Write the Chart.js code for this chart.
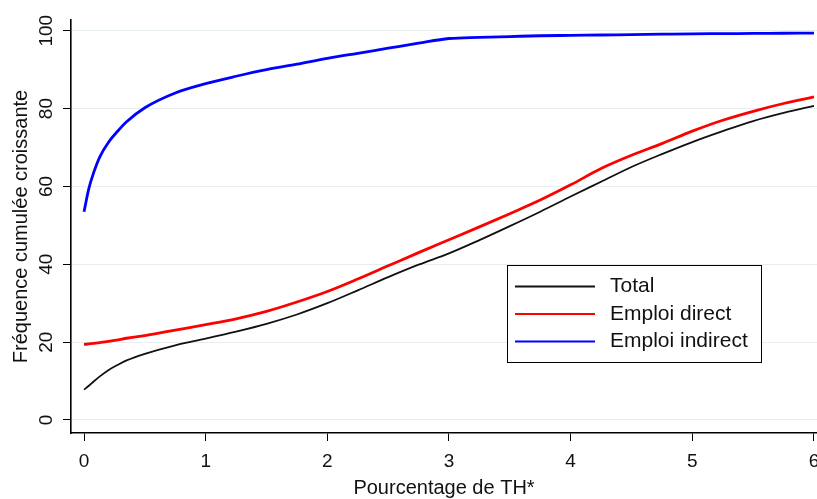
<!DOCTYPE html>
<html>
<head>
<meta charset="utf-8">
<script src="https://cdn.jsdelivr.net/npm/chart.js@4"></script>
<style>
  html, body { margin: 0; padding: 0; background: #fff; }
  #wrap { width: 817px; height: 499px; }
</style>
</head>
<body>
<div id="wrap"><canvas id="cumulChart" width="817" height="499"></canvas></div>
<script>
// valeurs
var xValues = [0, 0.04, 0.08, 0.13, 0.2, 0.28, 0.35, 0.5, 0.75, 1, 1.25, 1.5, 1.75, 2, 2.25, 2.5, 2.75, 3,
               3.25, 3.5, 3.75, 4, 4.25, 4.5, 4.75, 5, 5.25, 5.5, 5.75, 6];
var totalValues = [7.8, 8.8, 9.9, 11.2, 12.8, 14.2, 15.3, 17.0, 19.2, 20.9, 22.7, 24.7, 27.1, 30.0, 33.3, 36.7, 39.9, 42.8,
                   46.2, 49.8, 53.5, 57.4, 61.2, 65.0, 68.3, 71.4, 74.2, 76.8, 78.9, 80.7];
var directValues = [19.4, 19.55, 19.7, 19.9, 20.2, 20.6, 21.0, 21.7, 23.1, 24.5, 26.0, 27.9, 30.3, 33.0, 36.2, 39.6, 43.0, 46.3,
                    49.6, 53.0, 56.5, 60.4, 64.6, 68.0, 71.0, 74.2, 77.0, 79.3, 81.3, 83.0];
var indirectValues = [53.5, 59.5, 63.6, 67.6, 71.3, 74.3, 76.6, 80.2, 84.0, 86.4, 88.3, 90.0, 91.4, 92.9, 94.2, 95.5, 96.8, 98.0,
                      98.3, 98.5, 98.7, 98.8, 98.9, 99.0, 99.1, 99.2, 99.25, 99.3, 99.35, 99.4];
var seriesLabels = ['Total', 'Emploi direct', 'Emploi indirect'];
var xTickValues = [0, 1, 2, 3, 4, 5, 6];
var yTickValues = [0, 20, 40, 60, 80, 100];

var fontFamily = '"Liberation Sans", Arial, Helvetica, sans-serif';

function toPoints(ys) {
    return ys.map(function(y, i) { return {x: xValues[i], y: y}; });
}

// légende dans la zone du graphique (encadré blanc)
var insideLegend = {
    id: 'insideLegend',
    afterDatasetsDraw: function(chart) {
        var ctx = chart.ctx;
        var a = chart.chartArea;
        var left = Math.round(a.left + a.width * 0.584);
        var top = Math.round(a.top + a.height * 0.593);
        var w = 254, h = 97;
        ctx.save();
        ctx.fillStyle = '#fff';
        ctx.fillRect(left, top, w, h);
        ctx.strokeStyle = '#000';
        ctx.lineWidth = 1;
        ctx.strokeRect(left + 0.5, top + 0.5, w, h);
        ctx.font = '21px ' + fontFamily;
        ctx.textBaseline = 'middle';
        chart.data.datasets.forEach(function(ds, i) {
            var y = top + 21.5 + i * 27.5;
            ctx.strokeStyle = ds.borderColor;
            ctx.lineWidth = 1.8;
            ctx.beginPath();
            ctx.moveTo(left + 8, y);
            ctx.lineTo(left + 88, y);
            ctx.stroke();
            ctx.fillStyle = '#111';
            ctx.fillText(ds.label, left + 103, y);
        });
        ctx.restore();
    }
};

var context = document.getElementById('cumulChart').getContext('2d');

var cumulChart = new Chart(context, {
    type: 'line',
    data: {
        datasets: [{
            label: seriesLabels[0],
            data: toPoints(totalValues),
            borderColor: '#111111',
            borderWidth: 1.8
        }, {
            label: seriesLabels[1],
            data: toPoints(directValues),
            borderColor: '#ff0000',
            borderWidth: 2.8
        }, {
            label: seriesLabels[2],
            data: toPoints(indirectValues),
            borderColor: '#0000ff',
            borderWidth: 2.8
        }]
    },
    options: {
        responsive: false,
        animation: false,
        devicePixelRatio: 1,
        layout: { padding: { top: 20, right: 0, bottom: 0, left: 0 }, autoPadding: false },
        elements: {
            point: { radius: 0 },
            line: { cubicInterpolationMode: 'monotone', fill: false }
        },
        plugins: {
            legend: { display: false },
            tooltip: { enabled: false }
        },
        scales: {
            x: {
                type: 'linear',
                position: 'bottom',
                min: -0.107,
                max: 6.025,
                afterBuildTicks: function(scale) {
                    scale.ticks = xTickValues.map(function(v) { return {value: v}; });
                },
                afterFit: function(scale) {
                    scale.height = 66;
                    scale.paddingLeft = 0;
                    scale.paddingRight = 0;
                },
                grid: {
                    drawOnChartArea: false,
                    drawTicks: true,
                    tickLength: 8,
                    tickColor: '#000',
                    tickWidth: 1
                },
                border: { display: true, color: '#000', width: 1.6 },
                ticks: {
                    color: '#111',
                    font: { family: fontFamily, size: 19 },
                    padding: 9,
                    maxRotation: 0,
                    autoSkip: false
                },
                title: {
                    display: true,
                    text: 'Pourcentage de TH*',
                    color: '#111',
                    font: { family: fontFamily, size: 20, lineHeight: 1 },
                    padding: { top: 0, bottom: 1 }
                }
            },
            y: {
                type: 'linear',
                min: -3.34,
                max: 102.75,
                afterBuildTicks: function(scale) {
                    scale.ticks = yTickValues.map(function(v) { return {value: v}; });
                },
                afterFit: function(scale) {
                    scale.width = 71;
                    scale.paddingTop = 0;
                    scale.paddingBottom = 0;
                },
                grid: {
                    color: '#e6eef1',
                    lineWidth: 1,
                    drawTicks: true,
                    tickLength: 8,
                    tickColor: '#000',
                    tickWidth: 1
                },
                border: { display: true, color: '#000', width: 1.6 },
                ticks: {
                    color: '#111',
                    font: { family: fontFamily, size: 19 },
                    padding: 0,
                    minRotation: 90,
                    maxRotation: 90,
                    crossAlign: 'center',
                    autoSkip: false
                },
                title: {
                    display: true,
                    text: 'Fréquence cumulée croissante',
                    color: '#111',
                    font: { family: fontFamily, size: 20, lineHeight: 1.2 },
                    padding: { top: 9.5, bottom: 0 }
                }
            }
        }
    },
    plugins: [insideLegend]
});
</script>
</body>
</html>
